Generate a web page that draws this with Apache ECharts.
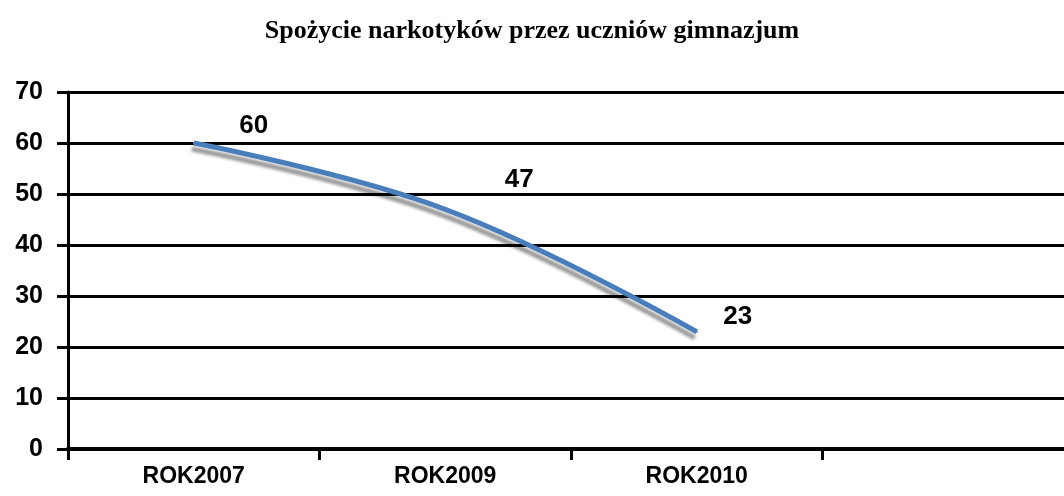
<!DOCTYPE html>
<html>
<head>
<meta charset="utf-8">
<script src="https://cdn.jsdelivr.net/npm/echarts@6/dist/echarts.min.js"></script>
<style>
  html, body {margin: 0; padding: 0; background: #fff;}
  #chart {width: 1064px; height: 496px;}
</style>
</head>
<body>
<div id="chart"></div>
<script>
// dane
var categories = ['ROK2007', 'ROK2009', 'ROK2010', ''];
var values = [60, 47, 23, null];
var yTicks = [0, 10, 20, 30, 40, 50, 60, 70];

// przesunięcia etykiet wartości (jak w oryginale)
var labelOffsets = [[60, 2], [74, -10], [41, 4]];

var lineColor = '#4a7ebb';

var chart = echarts.init(document.getElementById('chart'));

var seriesData = values.map(function (v, i) {
  if (v === null) return v;
  return {
    value: v,
    label: {offset: labelOffsets[i]}
  };
});

chart.setOption({
  animation: false,
  title: {
    text: 'Spożycie narkotyków przez uczniów gimnazjum',
    left: 'center',
    top: 13,
    textStyle: {
      fontFamily: 'Liberation Serif',
      fontWeight: 'bold',
      fontSize: 26,
      color: '#000'
    }
  },
  grid: {
    left: 68,
    width: 1006, // wykres wychodzi poza prawą krawędź
    top: 92,
    bottom: 47,
    containLabel: false,
    outerBoundsMode: 'none'
  },
  xAxis: {
    type: 'category',
    data: categories,
    boundaryGap: true,
    axisLine: {lineStyle: {color: '#000', width: 4}},
    axisTick: {show: true, length: 11, lineStyle: {color: '#000', width: 3}},
    axisLabel: {
      color: '#000',
      fontFamily: 'Liberation Sans',
      fontWeight: 'bold',
      fontSize: 23,
      margin: 16
    },
    splitLine: {show: false}
  },
  yAxis: {
    type: 'value',
    min: yTicks[0],
    max: yTicks[yTicks.length - 1],
    interval: yTicks[1] - yTicks[0],
    axisLine: {show: true, lineStyle: {color: '#000', width: 3}},
    axisTick: {show: true, length: 11, lineStyle: {color: '#000', width: 3}},
    axisLabel: {
      show: true,
      color: '#000',
      fontFamily: 'Liberation Sans',
      fontWeight: 'bold',
      fontSize: 25,
      margin: 25
    },
    splitLine: {show: true, lineStyle: {color: '#000', width: 3}}
  },
  series: [{
    type: 'line',
    data: seriesData,
    smooth: 0.4,
    showSymbol: true,
    symbol: 'circle',
    symbolSize: 2,
    itemStyle: {color: lineColor},
    lineStyle: {
      color: lineColor,
      width: 5,
      shadowColor: 'rgba(0,0,0,0.4)',
      shadowBlur: 3,
      shadowOffsetX: -2,
      shadowOffsetY: 6
    },
    label: {
      show: true,
      position: 'top',
      color: '#000',
      fontFamily: 'Liberation Sans',
      fontWeight: 'bold',
      fontSize: 26
    }
  }]
});
</script>
</body>
</html>
